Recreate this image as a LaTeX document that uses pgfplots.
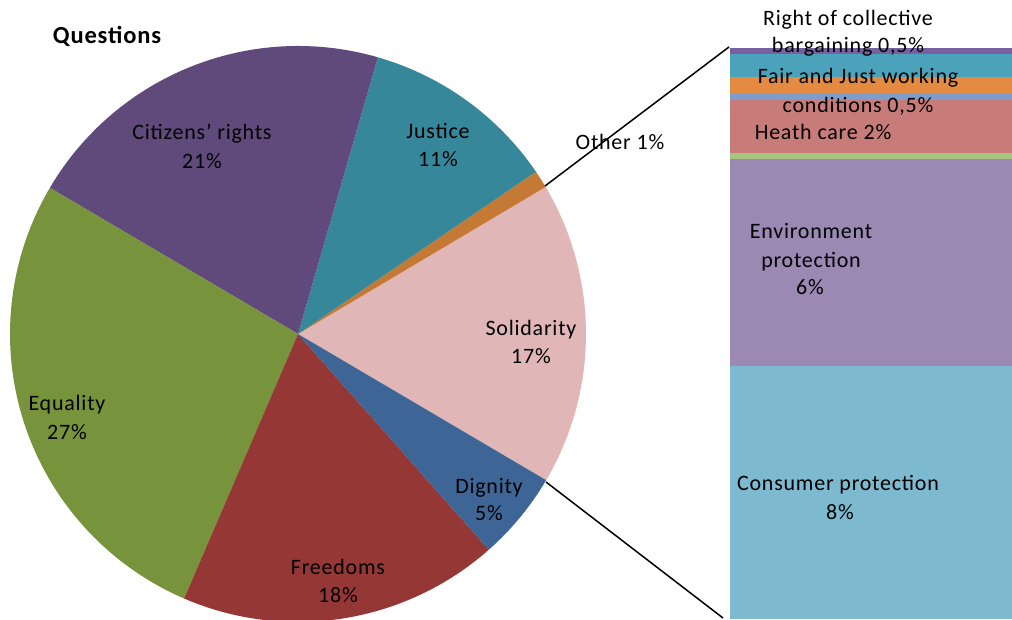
\documentclass[border=0pt]{standalone}
\usepackage{pgfplots}
\pgfplotsset{compat=1.18}
\usepackage{fontspec}
\setmainfont{Carlito}[LetterSpace=3.5]
\definecolor{cCit}{HTML}{604A7B}
\definecolor{cJus}{HTML}{37879A}
\definecolor{cOth}{HTML}{C47A34}
\definecolor{cSol}{HTML}{E0B7B6}
\definecolor{cDig}{HTML}{3D6596}
\definecolor{cFre}{HTML}{953735}
\definecolor{cEqu}{HTML}{77933C}
\definecolor{bCon}{HTML}{7DB9CF}
\definecolor{bEnv}{HTML}{9B88B3}
\definecolor{bGre}{HTML}{A9C47F}
\definecolor{bHea}{HTML}{C87C7A}
\definecolor{bBlu}{HTML}{7F9DCA}
\definecolor{bOra}{HTML}{E58B41}
\definecolor{bTea}{HTML}{4AA3BB}
\definecolor{bPur}{HTML}{7560A0}
% pie slice: #1 cumulative start (%), #2 share (%), #3 colour
\newcommand\slice[3]{\fill[#3] (axis cs:298,285) -- ++({-30.5+3.6*#1}:288pt) arc[start angle={-30.5+3.6*#1}, delta angle={3.6*#2}, radius=288pt] -- cycle;}
% bar segment: #1 bottom, #2 top, #3 colour
\newcommand\seg[3]{\addplot[fill=#3, draw=none] coordinates {(730,#1) (1012,#1) (1012,#2) (730,#2)} -- cycle;}
\begin{document}
\begin{tikzpicture}[every node/.append style={font=\fontsize{22}{26}\selectfont, inner sep=0pt}]
\begin{axis}[width=1012pt, height=619pt, scale only axis,
  xmin=0, xmax=1012, ymin=0, ymax=619, hide axis, clip=true]
% pie (percentages)
\slice{0}{17}{cSol}
\slice{17}{1}{cOth}
\slice{18}{11}{cJus}
\slice{29}{21}{cCit}
\slice{50}{27}{cEqu}
\slice{77}{18}{cFre}
\slice{95}{5}{cDig}
% bar of Solidarity
\seg{0}{252.5}{bCon}
\seg{252.5}{460}{bEnv}
\seg{460}{465.7}{bGre}
\seg{465.7}{519}{bHea}
\seg{519}{525}{bBlu}
\seg{525}{541.7}{bOra}
\seg{541.7}{565}{bTea}
\seg{565}{571}{bPur}
% connector lines
\draw[black, line width=1.5pt] (axis cs:545,433) -- (axis cs:729,572);
\draw[black, line width=1.5pt] (axis cs:546,137) -- (axis cs:723,1);
% labels
\node[anchor=base, font=\fontsize{24.5}{28}\selectfont\bfseries] at (axis cs:107,575) {Questions};
\node[anchor=base] at (axis cs:202,479) {Citizens' rights};
\node[anchor=base] at (axis cs:202,450) {21\%};
\node[anchor=base] at (axis cs:438,480) {Justice};
\node[anchor=base] at (axis cs:438,452) {11\%};
\node[anchor=base] at (axis cs:620,469) {Other 1\%};
\node[anchor=base] at (axis cs:531,283) {Solidarity};
\node[anchor=base] at (axis cs:531,255) {17\%};
\node[anchor=base] at (axis cs:67,208) {Equality};
\node[anchor=base] at (axis cs:67,179) {27\%};
\node[anchor=base] at (axis cs:489,126) {Dignity};
\node[anchor=base] at (axis cs:489,99) {5\%};
\node[anchor=base] at (axis cs:338,45) {Freedoms};
\node[anchor=base] at (axis cs:338,17) {18\%};
\node[anchor=base] at (axis cs:848,593) {Right of collective};
\node[anchor=base] at (axis cs:848,566) {bargaining 0,5\%};
\node[anchor=base] at (axis cs:858,535) {Fair and Just working};
\node[anchor=base] at (axis cs:858,506) {conditions 0,5\%};
\node[anchor=base] at (axis cs:823,479) {Heath care 2\%};
\node[anchor=base] at (axis cs:811,380) {Environment};
\node[anchor=base] at (axis cs:811,351) {protection};
\node[anchor=base] at (axis cs:810,324) {6\%};
\node[anchor=base] at (axis cs:838,129) {Consumer protection};
\node[anchor=base] at (axis cs:840,100) {8\%};
\end{axis}
\pgfresetboundingbox
\useasboundingbox (0,0) rectangle (1012pt,619pt);
\end{tikzpicture}
\end{document}
